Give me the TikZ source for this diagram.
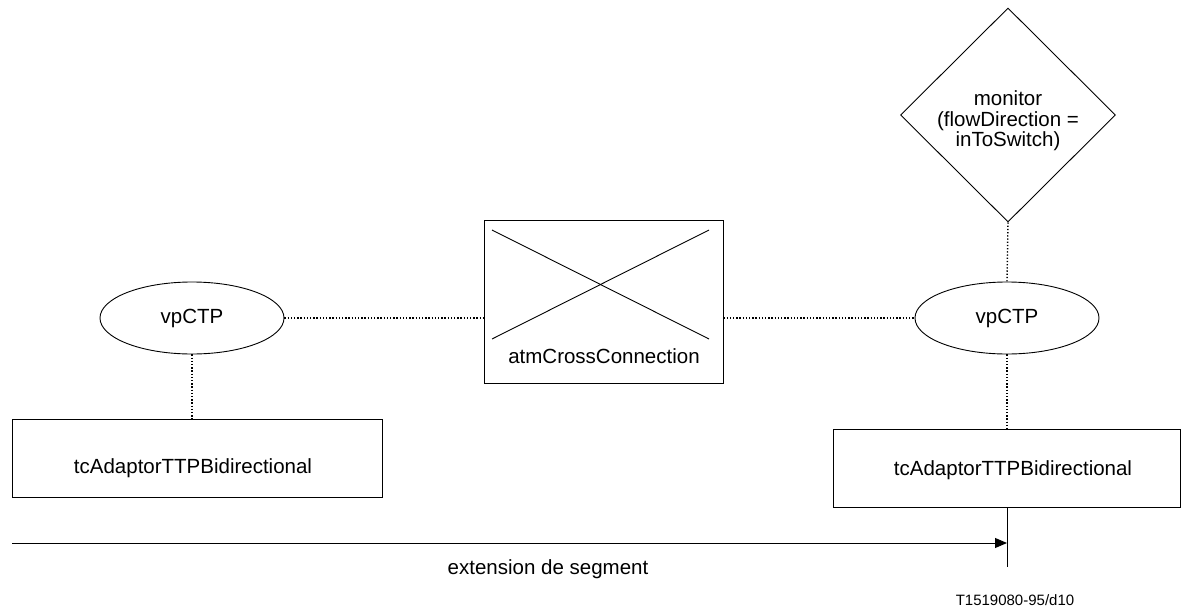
\documentclass[tikz,border=0pt]{standalone}
\usepackage{fontspec}
\setmainfont{Liberation Sans}
\usetikzlibrary{shapes.geometric,arrows.meta}
\begin{document}
\begin{tikzpicture}[x=1pt,y=-1pt,
  line width=0.9pt,
  every node/.style={font=\fontsize{20.5}{20.5}\selectfont},
  dotline/.style={line width=1.4pt,dash pattern=on 1.3pt off 1.9pt},
  boxnode/.style={draw,rectangle,inner sep=0pt},
  ovalnode/.style={draw,ellipse,inner sep=0pt,minimum width=184pt,minimum height=72pt},
  txt/.style={inner sep=0pt,align=center}]
\useasboundingbox (0,0) rectangle (1195,608);
% diamond
\node[draw,diamond,inner sep=0pt,minimum width=215pt,minimum height=214pt] (mon) at (1008,115) {};
\node[txt] (montxt) at (1008,121) {monitor\\(flowDirection =\\inToSwitch)};
% ellipses
\node[ovalnode] (vl) at (192,318) {};
\node[txt] (vltxt) at (192,318) {vpCTP};
\node[ovalnode] (vr) at (1007,318) {};
\node[txt] (vrtxt) at (1007,318) {vpCTP};
% cross connection box
\node[boxnode,minimum width=239pt,minimum height=163pt] (xc) at (603.5,301.5) {};
\coordinate (c1) at (492,230);
\coordinate (c2) at (709,339);
\coordinate (c3) at (492,339);
\coordinate (c4) at (709,230);
\draw (c1) -- (c2);
\draw (c3) -- (c4);
\node[txt] (xctxt) at (604,356) {atmCrossConnection};
% tc adaptor boxes
\node[boxnode,minimum width=370pt,minimum height=78pt] (tl) at (197,458) {};
\node[txt] (tltxt) at (193,468) {tcAdaptorTTPBidirectional};
\node[boxnode,minimum width=347pt,minimum height=78pt] (tr) at (1006.5,468) {};
\node[txt] (trtxt) at (1013,470) {tcAdaptorTTPBidirectional};
% dotted connectors
\draw[dotline] (vl.east) -- (vl.east -| xc.west);
\draw[dotline] (vr.west -| xc.east) -- (vr.west);
\draw[dotline] (vl.south) -- (vl.south |- tl.north);
\draw[dotline] (vr.south) -- (vr.south |- tr.north);
\draw[dotline] (mon.south) -- (vr.north);
% segment arrow
\coordinate (vbot) at (1007,567);
\coordinate (astart) at (12,543);
\coordinate (aend) at (1007,543);
\draw (tr.south -| vbot) -- (vbot);
\draw[-{Triangle[length=12pt,width=10pt]}] (astart) -- (aend);
\node[txt] (ext) at (548,569) {extension de segment};
\node[txt,font=\fontsize{15}{15}\selectfont] (ref) at (1015,600) {T1519080-95/d10};
\end{tikzpicture}
\end{document}
